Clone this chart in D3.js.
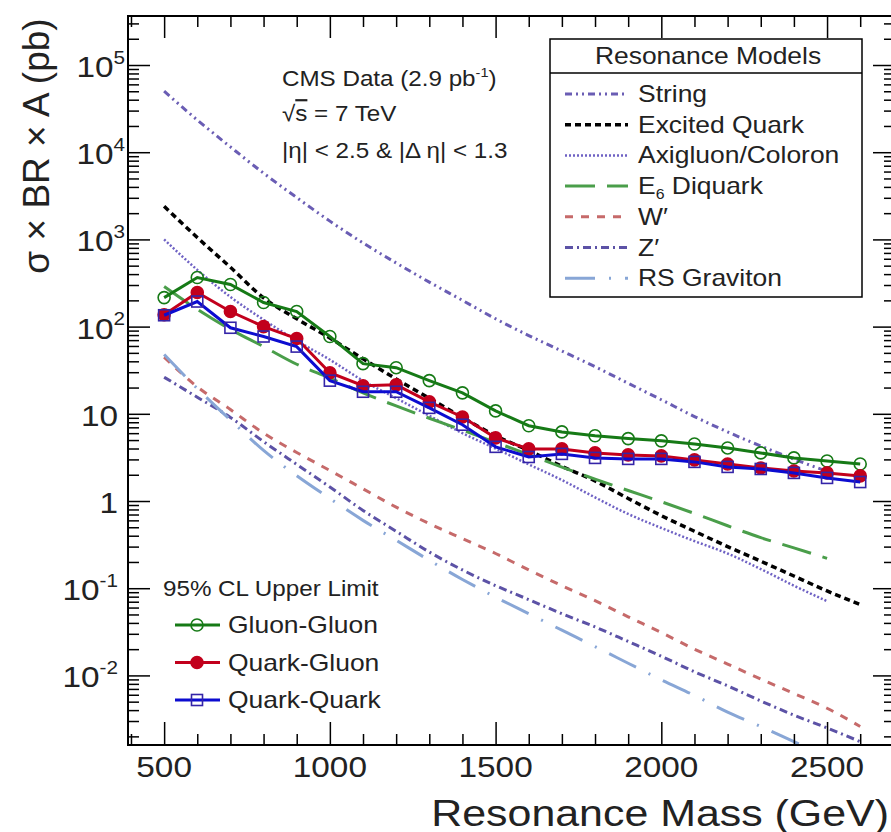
<!DOCTYPE html>
<html>
<head>
<meta charset="utf-8">
<script src="https://cdn.jsdelivr.net/npm/d3@7"></script>
<style>
  body { margin: 0; background: #fff; }
  text { font-family: "Liberation Sans", Arial, sans-serif; fill: #222; }
</style>
</head>
<body>
<div class="container"></div>
<script>
// 95% CL upper limits (pb)
const massData = [500, 600, 700, 800, 900, 1000, 1100, 1200, 1300, 1400, 1500,
  1600, 1700, 1800, 1900, 2000, 2100, 2200, 2300, 2400, 2500, 2600];
const gluonGluon = [215, 366, 304, 189, 149, 77, 37.6, 33.8, 24, 17.4, 10.8,
  7.3, 6.2, 5.6, 5.2, 4.9, 4.5, 4.06, 3.56, 3.12, 2.88, 2.66];
const quarkGluon = [137, 246, 149, 100, 73, 29.6, 21, 21.5, 13.7, 9.2, 5.3,
  3.96, 3.96, 3.56, 3.38, 3.29, 2.96, 2.66, 2.39, 2.21, 2.10, 1.94];
const quarkQuark = [135, 194, 97, 77, 59, 24, 17.9, 17.9, 11.7, 7.5, 4.18,
  3.2, 3.47, 3.12, 3.04, 3.04, 2.81, 2.46, 2.33, 2.10, 1.84, 1.65];

// model predictions (pb)
const massTo2500 = [500, 600, 700, 800, 900, 1000, 1100, 1200, 1300, 1400, 1500,
  1600, 1700, 1800, 1900, 2000, 2100, 2200, 2300, 2400, 2500];
const massTo2600 = massData;
const stringModel = [50100, 23400, 11500, 5750, 3020, 1620, 912, 537, 324, 200, 123,
  79, 52.5, 34.7, 22.4, 14.5, 9.3, 6.2, 4.27, 3.02, 2.19];
const excitedQuark = [2400, 1050, 479, 214, 123, 74, 42.7, 25.1, 15.1, 9.1, 5.6,
  3.8, 2.5, 1.7, 1.07, 0.68, 0.45, 0.30, 0.204, 0.138, 0.093, 0.065];
const axigluon = [1000, 447, 219, 120, 69, 41.7, 24, 15.1, 9.5, 6.0, 4.0,
  2.63, 1.74, 1.1, 0.71, 0.49, 0.347, 0.25, 0.166, 0.107, 0.071];
const diquarkE6 = [288, 158, 93, 59, 37, 25.7, 17.4, 12.3, 8.9, 6.5, 4.7,
  3.4, 2.45, 1.78, 1.32, 0.98, 0.72, 0.52, 0.38, 0.29, 0.22];
const wPrime = [44.7, 20.4, 11.2, 6.0, 3.6, 2.24, 1.38, 0.85, 0.55, 0.37, 0.25,
  0.162, 0.107, 0.072, 0.047, 0.031, 0.020, 0.0135, 0.0091, 0.0062, 0.0042, 0.0026];
const zPrime = [26.3, 15.5, 9.1, 4.8, 2.63, 1.45, 0.78, 0.45, 0.26, 0.162, 0.107,
  0.074, 0.051, 0.036, 0.0245, 0.0166, 0.011, 0.0076, 0.0051, 0.0035, 0.0025, 0.00174];
const rsGraviton = [47.9, 19.5, 8.5, 3.8, 1.95, 1.07, 0.60, 0.355, 0.209, 0.126, 0.079,
  0.051, 0.033, 0.0214, 0.0138, 0.0089, 0.0059, 0.0038, 0.0026, 0.00174, 0.00117];

const xMajor = [500, 1000, 1500, 2000, 2500];
const xMinor = [400, 600, 700, 800, 900, 1100, 1200, 1300, 1400, 1600, 1700,
  1800, 1900, 2100, 2200, 2300, 2400, 2600, 2700];
const yExponents = [-2, -1, 0, 1, 2, 3, 4, 5];

const SX = 1.15; // glyphs in the original are drawn wide

const frame = {left: 128, top: 16, right: 895, bottom: 745};

const svg = d3.select(".container")
  .append("svg")
  .attr("width", 891)
  .attr("height", 832)
  .style("background", "#fff");

const x = d3.scaleLinear()
  .domain([391, 2705])
  .range([frame.left, frame.right]);

const y = d3.scaleLog()
  .domain([Math.pow(10, -2.798), Math.pow(10, 5.562)])
  .range([frame.bottom, frame.top]);

svg.append("clipPath").attr("id", "clip")
  .append("rect")
  .attr("x", frame.left).attr("y", frame.top)
  .attr("width", frame.right - frame.left)
  .attr("height", frame.bottom - frame.top);

const models = [
  {name: "String", mass: massTo2500, values: stringModel, color: "#6a5db4", width: 3, dash: "7,4,2,4,2,4"},
  {name: "Excited Quark", mass: massTo2600, values: excitedQuark, color: "#000", width: 3.5, dash: "6,4"},
  {name: "Axigluon/Coloron", mass: massTo2500, values: axigluon, color: "#6f62c4", width: 2.5, dash: "2,2"},
  {name: "E6 Diquark", mass: massTo2500, values: diquarkE6, color: "#4a9e4a", width: 3, dash: "30,12"},
  {name: "W′", mass: massTo2600, values: wPrime, color: "#c66a6a", width: 3, dash: "8,8"},
  {name: "Z′", mass: massTo2600, values: zPrime, color: "#5c52a6", width: 3, dash: "8,4,2,4"},
  {name: "RS Graviton", mass: massTo2500, values: rsGraviton, color: "#88a6d6", width: 3, dash: "30,14,2,14"}
];

const limits = [
  {name: "Gluon-Gluon", values: gluonGluon, color: "#167a16", marker: "openCircle"},
  {name: "Quark-Gluon", values: quarkGluon, color: "#c2001c", marker: "fullCircle"},
  {name: "Quark-Quark", values: quarkQuark, color: "#0c0cd0", marker: "openSquare"}
];

const curve = d3.line()
  .curve(d3.curveMonotoneX)
  .x(d => x(d[0]))
  .y(d => y(d[1]));

const plot = svg.append("g").attr("clip-path", "url(#clip)");

models.forEach(m => {
  plot.append("path")
    .datum(m.mass.map((v, i) => [v, m.values[i]]))
    .attr("fill", "none")
    .attr("stroke", m.color)
    .attr("stroke-width", m.width)
    .attr("stroke-dasharray", m.dash)
    .attr("d", curve);
});

const straight = d3.line()
  .x(d => x(d[0]))
  .y(d => y(d[1]));

function marker(g, type, color, cx, cy) {
  if (type === "openSquare") {
    g.append("rect")
      .attr("x", cx - 5.5).attr("y", cy - 5.5)
      .attr("width", 11).attr("height", 11)
      .attr("fill", "none").attr("stroke", "#3424a8").attr("stroke-width", 1.6);
  } else {
    g.append("circle")
      .attr("cx", cx).attr("cy", cy).attr("r", 6)
      .attr("fill", type === "fullCircle" ? color : "none")
      .attr("stroke", color).attr("stroke-width", 1.6);
  }
}

limits.forEach(s => {
  const pts = massData.map((v, i) => [v, s.values[i]]);
  plot.append("path")
    .datum(pts)
    .attr("fill", "none")
    .attr("stroke", s.color)
    .attr("stroke-width", 3)
    .attr("d", straight);
  const mk = plot.append("g");
  pts.forEach(p => marker(mk, s.marker, s.color, x(p[0]), y(p[1])));
});

// frame and ticks on all four sides
const axes = svg.append("g");

function ticks(g) {
  g.call(a => a.select(".domain").remove());
  g.selectAll(".tick line").attr("stroke", "#000").attr("stroke-width", 1.5);
}

const yMinor = [];
yExponents.concat([-3]).forEach(e => {
  for (let k = 2; k <= 9; k++) {
    const v = k * Math.pow(10, e);
    if (v > y.domain()[0] && v < y.domain()[1]) yMinor.push(v);
  }
});
const yMajor = yExponents.map(e => Math.pow(10, e));

axes.append("g").attr("transform", `translate(0,${frame.bottom})`)
  .call(d3.axisTop(x).tickValues(xMajor).tickSize(23).tickFormat("")).call(ticks);
axes.append("g").attr("transform", `translate(0,${frame.bottom})`)
  .call(d3.axisTop(x).tickValues(xMinor).tickSize(11).tickFormat("")).call(ticks);
axes.append("g").attr("transform", `translate(0,${frame.top})`)
  .call(d3.axisBottom(x).tickValues(xMajor).tickSize(22).tickFormat("")).call(ticks);
axes.append("g").attr("transform", `translate(0,${frame.top})`)
  .call(d3.axisBottom(x).tickValues(xMinor).tickSize(11).tickFormat("")).call(ticks);
axes.append("g").attr("transform", `translate(${frame.left},0)`)
  .call(d3.axisRight(y).tickValues(yMajor).tickSize(22).tickFormat("")).call(ticks);
axes.append("g").attr("transform", `translate(${frame.left},0)`)
  .call(d3.axisRight(y).tickValues(yMinor).tickSize(11).tickFormat("")).call(ticks);
axes.append("g").attr("transform", `translate(${frame.right},0)`)
  .call(d3.axisLeft(y).tickValues(yMajor).tickSize(22).tickFormat("")).call(ticks);
axes.append("g").attr("transform", `translate(${frame.right},0)`)
  .call(d3.axisLeft(y).tickValues(yMinor).tickSize(11).tickFormat("")).call(ticks);

axes.append("rect")
  .attr("x", frame.left).attr("y", frame.top)
  .attr("width", frame.right - frame.left)
  .attr("height", frame.bottom - frame.top)
  .attr("fill", "none").attr("stroke", "#000").attr("stroke-width", 2);

function put(sel, px, py, sx) {
  return sel.attr("transform", `translate(${px},${py}) scale(${sx},1)`);
}

// tick labels
xMajor.forEach(v => {
  svg.append("text")
    .attr("text-anchor", "middle")
    .attr("font-size", 29)
    .text(v)
    .call(put, x(v), 777, SX);
});

yExponents.forEach(e => {
  const t = svg.append("text")
    .attr("text-anchor", "end")
    .attr("font-size", 29)
    .call(put, e >= 2 ? frame.left - 3 : frame.left - 10, y(Math.pow(10, e)) + 12, SX);
  if (e === 0) t.text("1");
  else if (e === 1) t.text("10");
  else {
    t.append("tspan").text("10");
    t.append("tspan").attr("font-size", "0.62em").attr("dy", "-0.75em").text(e);
  }
});

// axis titles
svg.append("text")
  .attr("text-anchor", "end")
  .attr("font-size", 37)
  .text("Resonance Mass (GeV)")
  .call(put, 889, 826, 1.16);

svg.append("text")
  .attr("text-anchor", "middle")
  .attr("font-size", 37)
  .attr("transform", "translate(49,146) rotate(-90)")
  .text("σ × BR × A (pb)");

// annotations
const note = svg.append("g").attr("font-size", 22);
const n1 = note.append("text").call(put, 282, 86, 1.1);
n1.append("tspan").text("CMS Data (2.9 pb");
n1.append("tspan").attr("font-size", "0.6em").attr("dy", "-0.7em").text("-1");
n1.append("tspan").attr("dy", "0.42em").text(")");
const n2 = note.append("text").call(put, 282, 121, 1.1);
n2.append("tspan").text("√");
n2.append("tspan").style("text-decoration", "overline").text("s");
n2.append("tspan").text(" = 7 TeV");
note.append("text").call(put, 282, 158, 1.1).text("|η| < 2.5 & |Δ η| < 1.3");

// model legend
const leg = svg.append("g");
leg.append("rect")
  .attr("x", 550).attr("y", 39).attr("width", 312).attr("height", 258)
  .attr("fill", "#fff").attr("stroke", "#000").attr("stroke-width", 1.5);
leg.append("line")
  .attr("x1", 550).attr("x2", 862).attr("y1", 73).attr("y2", 73)
  .attr("stroke", "#000").attr("stroke-width", 1.5);
leg.append("text")
  .attr("text-anchor", "middle").attr("font-size", 23)
  .text("Resonance Models")
  .call(put, 708, 64, SX);

models.forEach((m, i) => {
  const cy = 94 + i * 30.7;
  leg.append("line")
    .attr("x1", 565).attr("x2", 628).attr("y1", cy).attr("y2", cy)
    .attr("stroke", m.color).attr("stroke-width", m.width)
    .attr("stroke-dasharray", m.dash);
  const t = leg.append("text").attr("font-size", 23).call(put, 638, cy + 8, SX);
  if (m.name === "E6 Diquark") {
    t.append("tspan").text("E");
    t.append("tspan").attr("font-size", "0.6em").attr("dy", "0.35em").text("6");
    t.append("tspan").attr("dy", "-0.21em").text(" Diquark");
  } else {
    t.text(m.name);
  }
});

// limit legend
const leg2 = svg.append("g");
leg2.append("text").attr("font-size", 22)
  .text("95% CL Upper Limit")
  .call(put, 163, 596, 1.1);
limits.forEach((s, i) => {
  const cy = 625 + i * 37.5;
  leg2.append("line")
    .attr("x1", 175).attr("x2", 220).attr("y1", cy).attr("y2", cy)
    .attr("stroke", s.color).attr("stroke-width", 3);
  marker(leg2, s.marker, s.color, 197, cy);
  leg2.append("text").attr("font-size", 23)
    .text(s.name)
    .call(put, 228, cy + 8, SX);
});
</script>
</body>
</html>
